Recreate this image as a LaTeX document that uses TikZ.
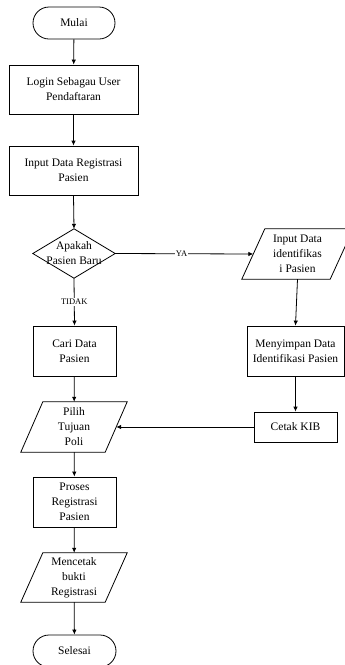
\documentclass[tikz,border=0pt]{standalone}
\usepackage{fontspec}
\setmainfont{Liberation Serif}
\usetikzlibrary{arrows.meta}
\begin{document}
\begin{tikzpicture}[x=1pt,y=-1pt,
  every node/.style={font=\fontsize{11.5}{15}\selectfont, align=center, inner sep=0pt},
  boxnode/.style={draw, line width=0.8pt, minimum width=#1},
  boxnode/.default=83,
  termnode/.style={draw, line width=0.8pt, rounded corners=16pt, minimum width=83pt, minimum height=32pt},
  ionode/.style={minimum width=#1, minimum height=50pt},
  lbl/.style={font=\fontsize{8.5}{10}\selectfont, fill=white, inner sep=1pt},
  conn/.style={line width=0.8pt, -{Latex[length=5pt,width=4.5pt]}},
  plain/.style={line width=0.8pt}
]
\useasboundingbox (0,0) rectangle (345,665);
\clip (0,0) rectangle (345,665);
\fill[white] (0,0) rectangle (345,665);

% nodes
\node[termnode, minimum width=82pt] (start) at (74,23) {Mulai};
\node[boxnode=129pt, minimum height=49pt] (login) at (73.5,89.5) {Login Sebagau User\\Pendaftaran};
\node[boxnode=129pt, minimum height=49pt] (input) at (73.5,170.5) {Input Data Registrasi\\Pasien};
\node[minimum width=82pt, minimum height=49pt] (dec) at (74,253.5) {Apakah\\Pasien Baru};
\draw[plain] (dec.north) -- (dec.east) -- (dec.south) -- (dec.west) -- cycle;

\node[ionode=88pt] (inid) at (297.5,254) {Input Data\\identifikas\\i Pasien};
\draw[plain] ([xshift=11.5pt]inid.north west) -- ([xshift=11.5pt]inid.north east)
  -- ([xshift=-11.5pt]inid.south east) -- ([xshift=-11.5pt]inid.south west) -- cycle;

\node[boxnode=97pt, minimum height=50pt] (simpan) at (295.5,351) {Menyimpan Data\\Identifikasi Pasien};
\node[boxnode=83pt, minimum height=50pt] (cari) at (74.5,351) {Cari Data\\Pasien};

\node[ionode=84pt] (pilih) at (74,427) {Pilih\\Tujuan\\Poli};
\draw[plain] ([xshift=11pt]pilih.north west) -- ([xshift=11pt]pilih.north east)
  -- ([xshift=-11pt]pilih.south east) -- ([xshift=-11pt]pilih.south west) -- cycle;

\node[boxnode=83pt, minimum height=30pt] (cetak) at (295.5,427) {Cetak KIB};
\node[boxnode=83pt, minimum height=50pt] (proses) at (74.5,502) {Proses\\Registrasi\\Pasien};

\node[ionode=84pt, minimum height=49pt] (bukti) at (74,577.5) {Mencetak\\bukti\\Registrasi};
\draw[plain] ([xshift=11pt]bukti.north west) -- ([xshift=11pt]bukti.north east)
  -- ([xshift=-11pt]bukti.south east) -- ([xshift=-11pt]bukti.south west) -- cycle;

\node[termnode] (selesai) at (74.5,651) {Selesai};

% connectors
\draw[conn] (start) -- (login);
\draw[conn] (login) -- (input);
\draw[conn] (input.south) -- (dec.north);
\draw[conn] (dec.east) -- node[lbl, pos=0.48] {YA} (inid.west);
\draw[conn] (dec.south) -- node[lbl] {TIDAK} (cari.north);
\draw[conn] (inid.south) -- (simpan.north);
\draw[conn] (simpan) -- (cetak);
\draw[conn] (cetak.west) -- (pilih.east);
\draw[conn] (cari) -- (pilih);
\draw[conn] (pilih) -- (proses);
\draw[conn] (proses) -- (bukti);
\draw[conn] (bukti) -- (selesai);
\end{tikzpicture}
\end{document}
